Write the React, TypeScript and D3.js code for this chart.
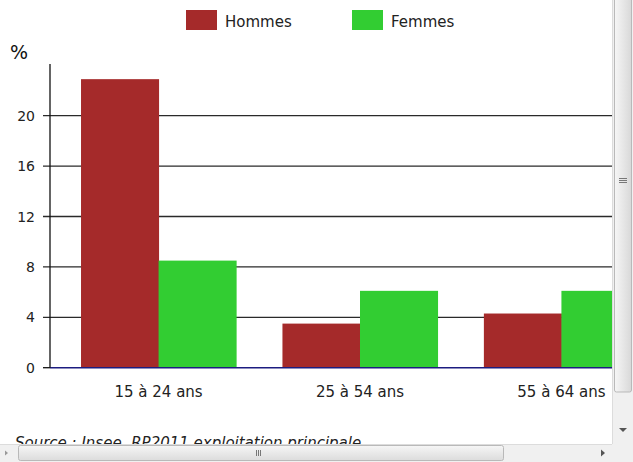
import React from 'react';
import * as d3 from 'd3';

// données : part (%) par tranche d'âge
const categories = ['15 à 24 ans', '25 à 54 ans', '55 à 64 ans'];
const series = ['Hommes', 'Femmes'];
const hommes = [22.9, 3.5, 4.3];
const femmes = [8.5, 6.1, 6.1];
const yTicks = [0, 4, 8, 12, 16, 20];
const colors = ['#a52a2a', '#32cd32'];
const source = 'Source : Insee, RP2011 exploitation principale';

const W = 633;
const H = 462;
const FONT = '"DejaVu Sans", Verdana, sans-serif';

export default function App() {
  const values = [hommes, femmes];

  const x0 = d3.scaleBand<string>()
    .domain(categories)
    .range([50, 670])
    .paddingInner(0.23)
    .paddingOuter(0.154);

  const x1 = d3.scaleBand<string>()
    .domain(series)
    .range([0, x0.bandwidth()]);

  const y = d3.scaleLinear().domain([0, 24]).range([367.7, 65.3]);

  const plotRight = 612;

  return (
    <div style={{ position: 'absolute', top: 0, left: 0 }}>
      <svg width={W} height={H} style={{ display: 'block', background: '#fff' }}>
        <defs>
          <clipPath id="plot">
            <rect x={0} y={0} width={plotRight} height={444} />
          </clipPath>
          <linearGradient id="hthumb" x1="0" y1="0" x2="0" y2="1">
            <stop offset="0" stopColor="#f6f6f6" />
            <stop offset="1" stopColor="#dcdcdc" />
          </linearGradient>
          <linearGradient id="vthumb" x1="0" y1="0" x2="1" y2="0">
            <stop offset="0" stopColor="#f6f6f6" />
            <stop offset="1" stopColor="#d8d8d8" />
          </linearGradient>
        </defs>

        {/* légende */}
        {series.map((s, i) => {
          const lx = i === 0 ? 186 : 352;
          return (
            <g key={s}>
              <rect x={lx} y={10} width={31} height={20} fill={colors[i]} />
              <text x={lx + 39} y={27} fontFamily={FONT} fontSize={15} fill="#222">{s}</text>
            </g>
          );
        })}

        <text x={10} y={59} fontFamily={FONT} fontSize={19} fill="#111">%</text>

        <g clipPath="url(#plot)">
          {/* grille */}
          {yTicks.filter(t => t > 0).map(t => (
            <line key={t} x1={43} x2={670} y1={y(t)} y2={y(t)} stroke="#2a2a2a" strokeWidth={1.3} />
          ))}

          {/* barres */}
          {categories.map((c, ci) => (
            <g key={c} transform={`translate(${x0(c)},0)`}>
              {series.map((s, si) => (
                <rect
                  key={s}
                  x={x1(s)}
                  y={y(values[si][ci])}
                  width={x1.bandwidth() + 0.5}
                  height={y(0) - y(values[si][ci])}
                  fill={colors[si]}
                />
              ))}
            </g>
          ))}

          <line x1={50} x2={670} y1={y(0)} y2={y(0)} stroke="#1c1c80" strokeWidth={1.6} />
        </g>

        {/* axe y */}
        <line x1={50} x2={50} y1={64} y2={y(0)} stroke="#111" strokeWidth={1.3} />
        <line x1={43} x2={50} y1={y(0)} y2={y(0)} stroke="#111" strokeWidth={1.3} />
        {yTicks.map(t => (
          <text key={t} x={35} y={y(t)} dy="0.36em" textAnchor="end" fontFamily={FONT} fontSize={14} fill="#222">{t}</text>
        ))}

        {/* étiquettes des catégories */}
        {categories.map(c => (
          <text key={c} x={(x0(c) ?? 0) + x0.bandwidth() / 2} y={397} textAnchor="middle"
            fontFamily={FONT} fontSize={15} fill="#222" clipPath="url(#plot)">{c}</text>
        ))}

        <text x={15} y={448} fontFamily={FONT} fontSize={15} fontStyle="italic" fill="#222">{source}</text>

        {/* barres de défilement */}
        <rect x={0} y={444} width={plotRight} height={18} fill="#f0f0f0" />
        <line x1={0} x2={plotRight} y1={444.5} y2={444.5} stroke="#dcdcdc" />
        <rect x={18.5} y={445.5} width={485} height={15} rx={2} fill="url(#hthumb)" stroke="#b9b9b9" />
        {[-2, 0, 2].map(d => (
          <line key={d} x1={258.5 + d} x2={258.5 + d} y1={450} y2={456} stroke="#777" />
        ))}
        <path d="M7,453 L4,450.5 L4,455.5 Z" transform="translate(1,0) scale(1)" fill="#999" />
        <path d="M601,449.5 L605,453 L601,456.5 Z" fill="#555" />

        <rect x={plotRight} y={0} width={W - plotRight} height={444} fill="#f0f0f0" />
        <line x1={plotRight + 0.5} x2={plotRight + 0.5} y1={0} y2={444} stroke="#dcdcdc" />
        <rect x={614.5} y={-3} width={17} height={395} rx={2} fill="url(#vthumb)" stroke="#b9b9b9" />
        {[-2, 0, 2].map(d => (
          <line key={d} x1={619} x2={627} y1={180.5 + d} y2={180.5 + d} stroke="#777" />
        ))}
        <path d="M619,428 L627,428 L623,432 Z" fill="#555" />
        <rect x={plotRight} y={444} width={W - plotRight} height={18} fill="#f0f0f0" />
      </svg>
    </div>
  );
}
